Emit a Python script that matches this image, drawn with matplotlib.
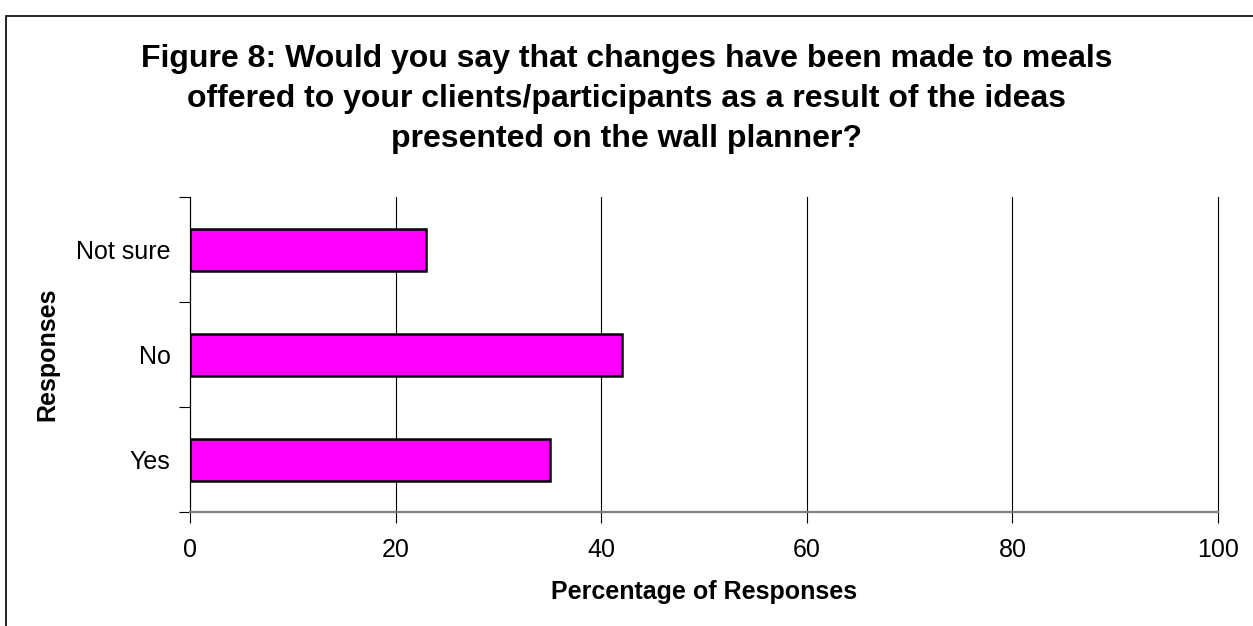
import numpy as np
import matplotlib.pyplot as plt
from matplotlib.patches import Rectangle

plt.rcParams['font.family'] = ['Liberation Sans', 'DejaVu Sans']

# survey answers, bottom to top
responses = ['Yes', 'No', 'Not sure']
percentages = [35, 42, 23]
x_ticks = [0, 20, 40, 60, 80, 100]

title = ('Figure 8: Would you say that changes have been made to meals\n'
         'offered to your clients/participants as a result of the ideas\n'
         'presented on the wall planner?')


def plot_responses():
    fig = plt.figure(figsize=(12.53, 6.26), dpi=100)
    ax = fig.add_axes([190 / 1253, 1 - 512 / 626, 1028 / 1253, 315 / 626])

    # outer frame, cut off at the right and bottom
    fig.patches.append(Rectangle((6 / 1253, -0.1), 1.2, 1 - 16 / 626 + 0.1,
                                 transform=fig.transFigure, fill=False,
                                 edgecolor='black', linewidth=1.2))

    y = np.arange(len(responses))
    ax.barh(y, percentages, height=0.4, color='#ff00ff',
            edgecolor='black', linewidth=1.8, zorder=3)

    ax.set_xlim(0, 100)
    ax.set_ylim(-0.5, len(responses) - 0.5)
    ax.set_xticks(x_ticks)
    ax.set_yticks(y)
    ax.set_yticklabels(responses)
    ax.set_yticks(np.arange(len(responses) + 1) - 0.5, minor=True)

    ax.tick_params(axis='x', length=8, width=0.8, pad=11, labelsize=18,
                   color='black')
    ax.tick_params(axis='y', which='major', length=0, pad=14, labelsize=18)
    ax.tick_params(axis='y', which='minor', length=8, width=0.8)

    ax.grid(axis='x', color='black', linewidth=0.8, zorder=0)
    for line in ax.get_xgridlines():
        line.set_clip_on(False)
    ax.spines['top'].set_visible(False)
    ax.spines['right'].set_visible(False)
    ax.spines['left'].set_linewidth(0.8)
    ax.spines['bottom'].set_color('#808080')
    ax.spines['bottom'].set_linewidth(1.6)

    ax.set_xlabel('Percentage of Responses', fontsize=18, fontweight='bold',
                  labelpad=13)
    ax.set_ylabel('Responses', fontsize=18, fontweight='bold', labelpad=12)

    fig.text(0.5, 1 - 99 / 626, title, ha='center', va='center',
             fontsize=23, fontweight='bold', linespacing=1.45)

    fig.savefig('out.png', dpi=100, facecolor='white')


if __name__ == "__main__":
    plot_responses()
